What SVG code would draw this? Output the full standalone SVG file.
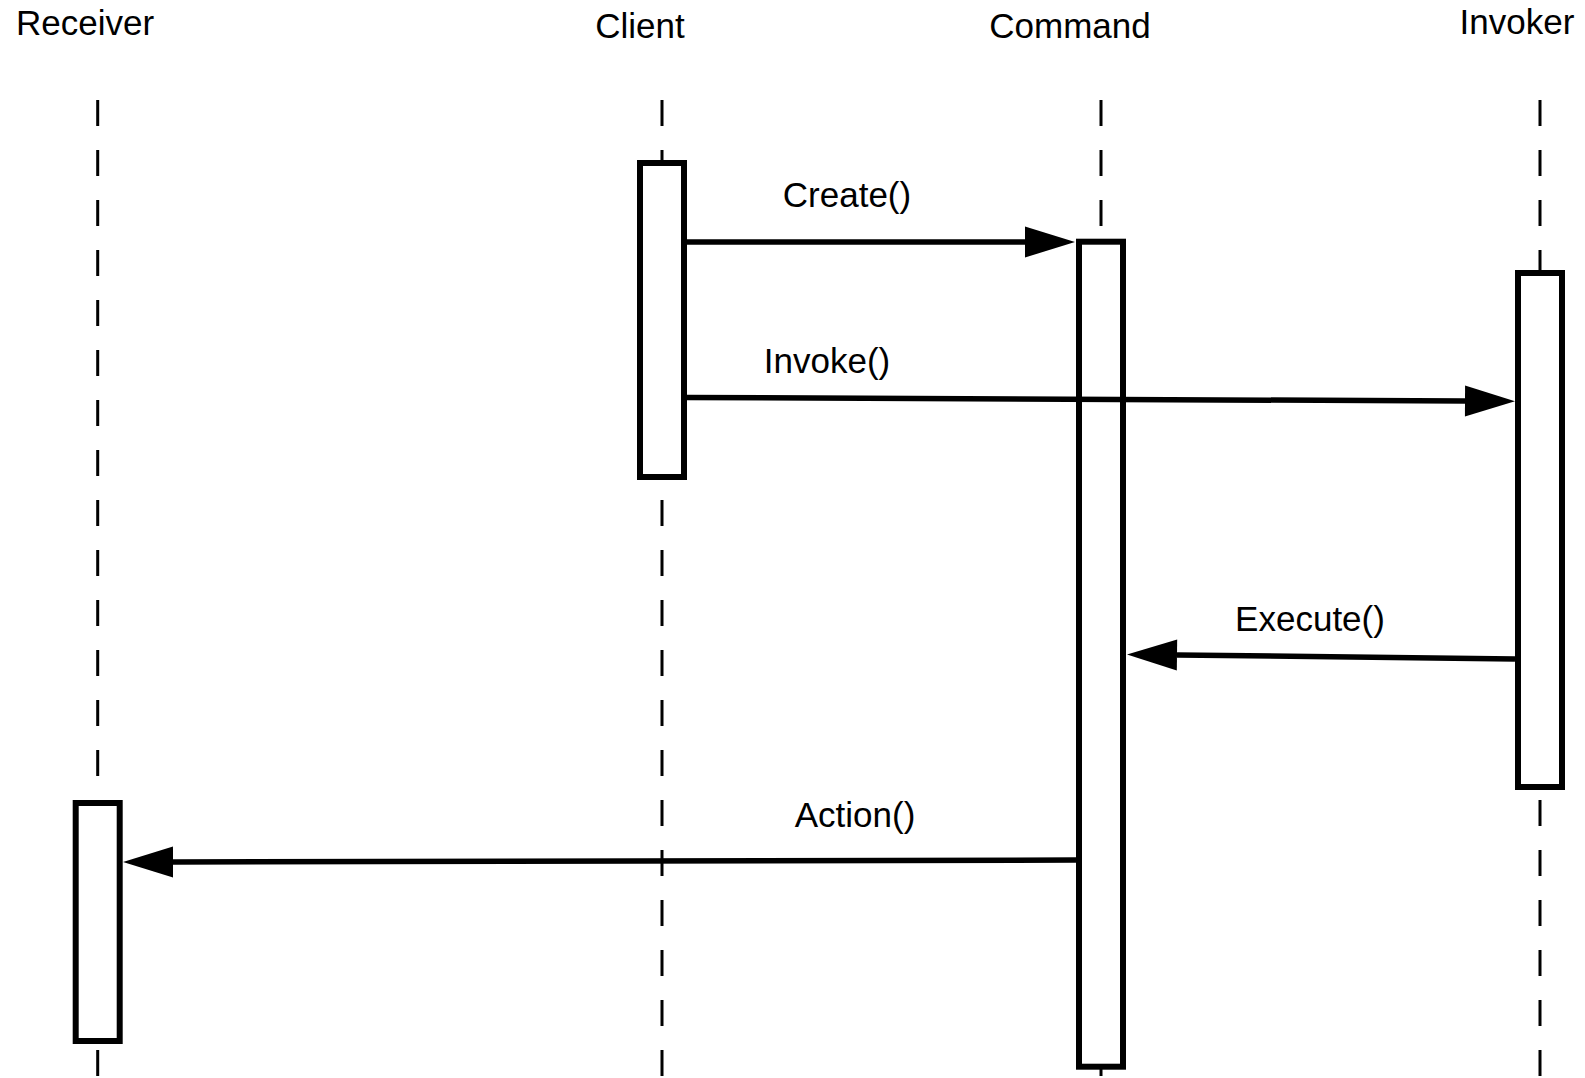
<svg xmlns="http://www.w3.org/2000/svg" width="1585" height="1078" viewBox="0 0 1585 1078">
<style>
  .bg { fill: #ffffff; }
  .life { stroke: #000; stroke-width: 3; stroke-dasharray: 26 24; fill: none; }
  .act { fill: #ffffff; stroke: #000; stroke-width: 6; }
  .msg { stroke: #000; stroke-width: 5.5; fill: none; marker-end: url(#arrow); }
  text { font-family: "Liberation Sans", Arial, sans-serif; font-size: 35px; fill: #000; text-anchor: middle; }
</style>
<defs>
  <marker id="arrow" markerUnits="userSpaceOnUse" markerWidth="52" markerHeight="34" refX="0" refY="16" orient="auto" viewBox="0 0 52 32" overflow="visible">
    <path d="M0,0.5 L50,16 L0,31.5 Z" fill="#000"/>
  </marker>
</defs>
<rect class="bg" x="0" y="0" width="1585" height="1078"/>

<g id="receiver">
  <text x="85" y="35">Receiver</text>
  <line class="life" x1="97.7" y1="100" x2="97.7" y2="1078"/>
  <rect class="act" x="75.7" y="803" width="44" height="238"/>
</g>
<g id="client">
  <text x="640" y="38">Client</text>
  <line class="life" x1="662" y1="100" x2="662" y2="1078"/>
  <rect class="act" x="640" y="163" width="44" height="314"/>
</g>
<g id="command">
  <text x="1070" y="38">Command</text>
  <line class="life" x1="1101" y1="100" x2="1101" y2="1078"/>
  <rect class="act" x="1079" y="241.7" width="44" height="825"/>
</g>
<g id="invoker">
  <text x="1517" y="34">Invoker</text>
  <line class="life" x1="1540" y1="100" x2="1540" y2="1078"/>
  <rect class="act" x="1518" y="273" width="44" height="514"/>
</g>

<g id="connectors">
  <line class="msg" x1="687" y1="242" x2="1025" y2="242"/>
  <line class="msg" x1="687" y1="397.5" x2="1465" y2="401"/>
  <line class="msg" x1="1515" y1="659" x2="1177" y2="655"/>
  <line class="msg" x1="1076" y1="860" x2="173" y2="862"/>
  <text x="847" y="207">Create()</text>
  <text x="827" y="373">Invoke()</text>
  <text x="1310" y="631">Execute()</text>
  <text x="855" y="827">Action()</text>
</g>
</svg>
